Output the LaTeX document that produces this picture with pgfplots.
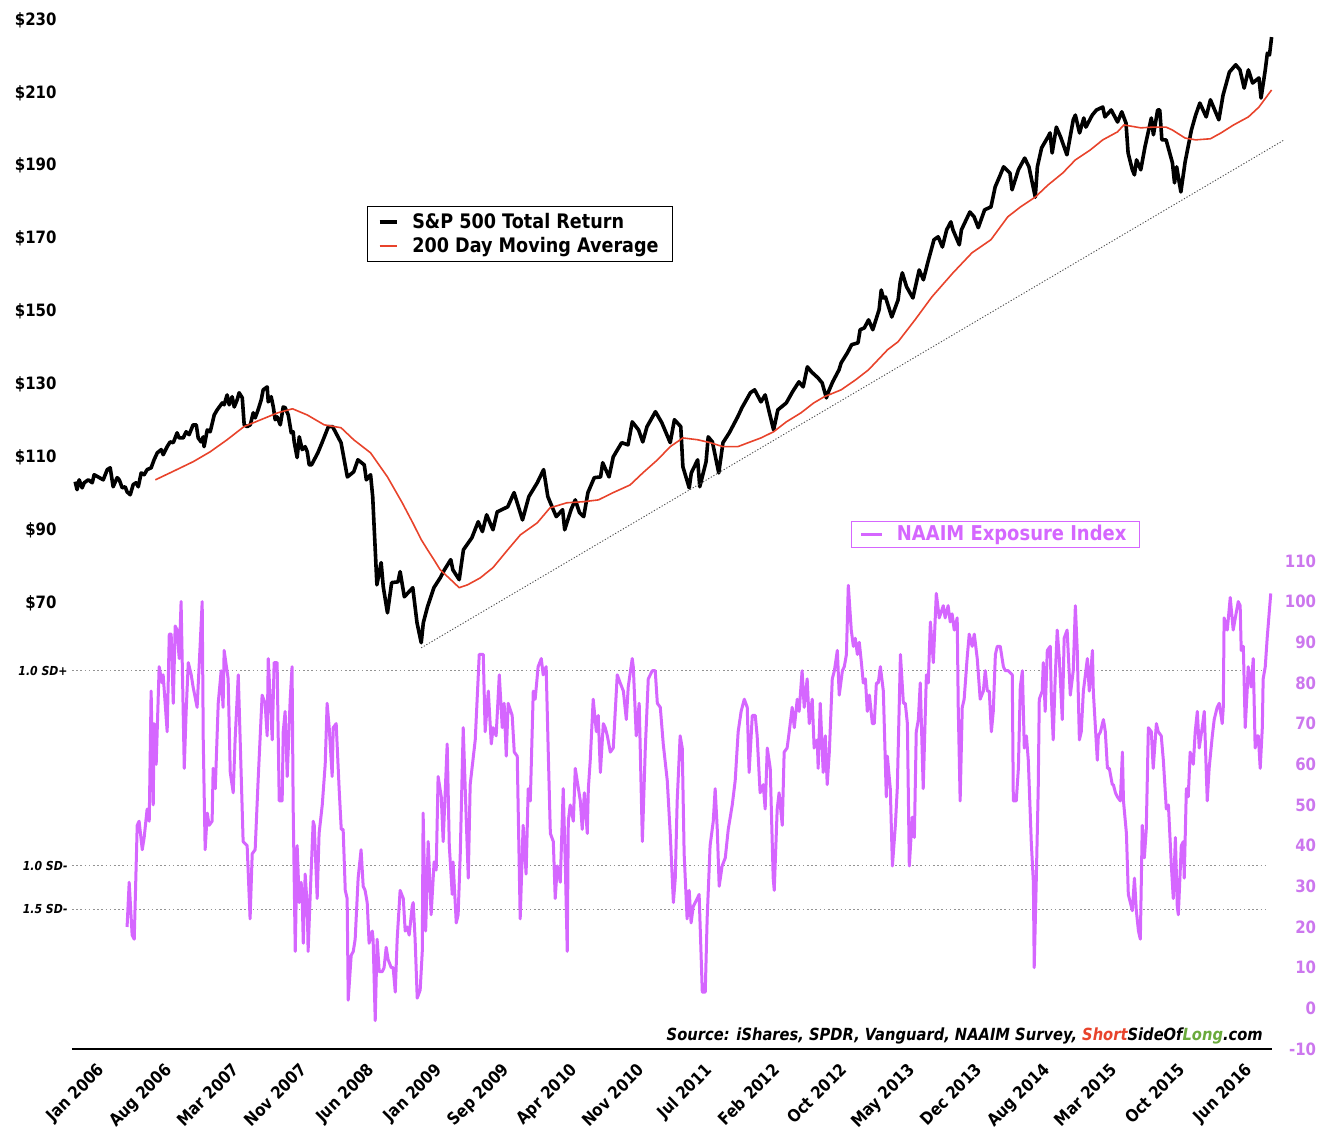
\documentclass[border=0pt]{standalone}
\usepackage{pgfplots}
\pgfplotsset{compat=1.18}
\usepackage{fontspec}
\setmainfont{DejaVu Sans}[FakeStretch=0.88,
  BoldFont={DejaVu Sans Bold},
  ItalicFont={DejaVu Sans Oblique},
  BoldItalicFont={DejaVu Sans Bold Oblique}]

\definecolor{naaim}{RGB}{213,102,255}
\definecolor{naaimtxt}{RGB}{204,119,238}
\definecolor{mared}{RGB}{232,67,43}
\definecolor{sslgreen}{RGB}{106,170,60}

\newcommand\ticfont{\fontsize{8.5}{10}\selectfont\bfseries}
\newcommand\legfont{\fontsize{10}{12}\selectfont\bfseries}
\newcommand\sdfont{\fontsize{6.2}{8}\selectfont\bfseries\itshape}

% weekly data, x = weeks since first week of Jan 2006
\pgfplotstableread[row sep=\\]{
w p\\
0 103.3\\ 0.9 101.1\\ 1.9 103.8\\ 3.3 101.6\\ 4.3 103.0\\ 6.2 103.8\\ 8.1 103.0\\ 9.0 105.2\\
10.9 104.6\\ 13.3 103.8\\ 15.2 106.6\\ 16.6 107.1\\ 18.0 101.9\\ 19.9 104.4\\ 20.9 103.8\\ 22.3 101.6\\
23.7 101.9\\ 24.6 100.5\\ 26.1 99.7\\ 27.5 102.5\\ 28.9 103.0\\ 29.9 101.9\\ 31.3 105.7\\ 32.7 105.2\\
34.1 106.6\\ 36.0 107.1\\ 37.4 109.3\\ 38.9 111.2\\ 40.8 112.1\\ 41.7 110.7\\ 43.6 112.9\\ 45.0 114.2\\
46.5 114.0\\ 48.3 116.7\\ 49.3 115.3\\ 51.2 115.3\\ 52.6 117.0\\ 54.0 116.2\\ 55.9 118.9\\ 57.4 118.9\\
58.3 115.3\\ 59.7 114.2\\ 60.7 115.6\\ 61.1 112.9\\ 62.6 117.5\\ 64.0 117.0\\ 65.9 121.6\\ 67.3 123.0\\
69.7 124.9\\ 70.6 124.4\\ 72.0 127.1\\ 73.0 124.4\\ 74.4 126.6\\ 75.4 123.8\\ 76.8 125.8\\ 77.7 127.7\\
79.2 126.3\\ 80.1 118.9\\ 81.5 118.4\\ 83.0 118.9\\ 84.4 122.2\\ 85.3 120.8\\ 86.7 123.0\\ 88.2 125.8\\
89.1 128.5\\ 91.0 129.3\\ 91.5 125.2\\ 92.9 126.6\\ 93.9 123.8\\ 94.8 120.3\\ 95.7 121.1\\ 97.2 118.9\\
98.6 123.8\\ 99.5 123.6\\ 101.0 121.6\\ 102.4 116.7\\ 103.3 117.0\\ 103.8 114.2\\ 105.2 109.9\\ 106.2 115.6\\
107.6 112.1\\ 109.0 112.9\\ 110.0 111.5\\ 110.9 107.9\\ 112 107.9\\ 115 111.2\\ 117 114.0\\
120 118.4\\ 122 118.4\\ 126 114.0\\ 129 104.6\\ 132 106.0\\ 134 109.3\\ 137 107.9\\ 138 103.8\\
140 105.2\\ 141 99.2\\ 143 75.0\\ 145 81.1\\ 146 74.5\\ 148 67.3\\ 150 75.6\\ 153 75.8\\
154 78.6\\ 156 71.7\\ 160 74.2\\ 162 64.6\\ 164 59.1\\ 165 64.6\\ 167 69.0\\ 170 74.2\\
173 76.9\\ 175 79.1\\ 178 81.9\\ 179 79.1\\ 182 76.4\\ 184 84.6\\ 188 87.9\\ 191 92.3\\
193 89.6\\ 195 94.2\\ 198 90.1\\ 200 95.0\\ 205 96.4\\ 208 100.3\\ 212 92.8\\ 215 99.2\\
219 103.0\\ 222 106.6\\ 224 99.2\\ 226 96.4\\ 228 93.7\\ 231 95.6\\ 232 90.1\\ 235 95.6\\
237 98.3\\ 239 94.8\\ 241 93.7\\ 243 100.3\\ 246 104.4\\ 249 104.6\\ 250 108.5\\ 253 104.6\\
255 110.1\\ 259 114.0\\ 262 113.4\\ 264 119.7\\ 267 117.5\\ 269 114.2\\ 271 118.4\\ 275 122.5\\
278 119.5\\ 282 114.0\\ 284 120.3\\ 287 118.4\\ 288 107.4\\ 291 101.6\\ 292 105.7\\ 295 109.3\\
296 101.9\\ 299 108.8\\ 300 115.6\\ 302 114.2\\ 305 105.7\\ 307 114.0\\ 310 116.7\\ 314 121.1\\
316 123.6\\ 320 127.7\\ 322 128.5\\ 325 125.2\\ 327 127.1\\ 329 122.2\\ 331 117.5\\ 333 123.0\\
337 124.9\\ 340 128.0\\ 343 130.7\\ 345 129.3\\ 347 134.8\\ 349 133.4\\ 352 131.8\\ 354 130.4\\
356 126.3\\ 357 128.0\\ 359 130.7\\ 362 134.0\\ 363 135.9\\ 366 138.7\\ 368 140.9\\ 371 141.4\\
372 145.0\\ 374 145.5\\ 376 147.7\\ 378 145.0\\ 381 150.5\\ 382 155.9\\ 383 153.7\\ 384 154.0\\
387 148.5\\ 390 153.2\\ 391 158.1\\ 392 160.6\\ 394 156.8\\ 397 153.7\\ 400 161.4\\ 402 158.7\\
404 163.3\\ 407 169.7\\ 409 170.5\\ 411 167.7\\ 413 172.4\\ 415 174.6\\ 416 172.4\\ 419 168.3\\
420 172.4\\ 424 177.3\\ 426 176.0\\ 428 173.0\\ 431 177.9\\ 434 178.7\\ 436 184.2\\ 438 186.9\\
440 189.7\\ 443 188.0\\ 444 183.4\\ 447 188.9\\ 450 192.1\\ 452 189.7\\ 455 181.4\\ 456 189.7\\
458 194.9\\ 461 197.9\\ 462 199.0\\ 463 193.5\\ 465 200.6\\ 467 197.9\\ 470 193.0\\ 473 202.6\\
474 203.9\\ 476 199.0\\ 478 203.1\\ 479 200.6\\ 482 203.9\\ 484 205.3\\ 487 206.1\\ 488 203.4\\
491 205.3\\ 494 202.0\\ 496 204.8\\ 498 201.7\\ 499 193.5\\ 501 188.9\\ 502 187.5\\ 503 191.6\\
505 188.9\\ 507 195.2\\ 510 203.1\\ 511 198.5\\ 513 205.3\\ 514 205.3\\ 515 197.1\\ 517 197.1\\
520 190.8\\ 521 185.3\\ 522 189.7\\ 524 182.8\\ 526 191.0\\ 529 199.8\\ 531 203.9\\ 533 207.2\\
536 203.4\\ 538 208.1\\ 542 202.6\\ 544 209.4\\ 547 215.7\\ 550 217.7\\ 552 216.3\\ 554 211.3\\
556 216.3\\ 558 212.7\\ 561 214.1\\ 562 208.6\\ 564 216.3\\ 565 220.9\\ 566 220.4\\ 567 225.3\\
}\spx

\pgfplotstableread[row sep=\\]{
w p\\
38 103.8\\ 46 106.0\\ 56 108.8\\ 64 111.5\\ 72 114.8\\ 80 118.4\\ 88 120.3\\ 96 122.2\\
103 123.3\\ 110 121.6\\ 118 118.9\\ 126 118.1\\ 132 114.8\\ 140 111.2\\ 148 104.6\\ 155 97.5\\
160 92.0\\ 164 87.4\\ 167 84.6\\ 170 81.9\\ 173 79.1\\ 178 76.4\\ 182 74.2\\ 186 75.0\\
192 76.9\\ 198 79.7\\ 205 84.6\\ 211 88.7\\ 219 92.0\\ 225 96.1\\ 233 97.5\\ 241 97.8\\
248 98.3\\ 255 100.3\\ 263 102.4\\ 269 105.7\\ 276 109.3\\ 282 112.9\\ 288 115.3\\ 295 114.8\\
301 114.0\\ 307 112.9\\ 314 112.9\\ 319 114.0\\ 325 115.3\\ 331 117.0\\ 337 119.7\\ 344 122.2\\
350 124.9\\ 355 126.6\\ 363 128.5\\ 370 131.3\\ 376 134.0\\ 385 139.5\\ 390 141.7\\ 398 147.7\\
406 154.0\\ 416 160.6\\ 425 166.1\\ 434 169.7\\ 442 176.0\\ 448 178.7\\ 455 181.4\\ 461 184.7\\
468 188.0\\ 474 191.6\\ 481 194.3\\ 487 197.1\\ 494 199.3\\ 497 201.2\\ 505 200.4\\ 511 200.6\\
517 200.6\\ 520 199.8\\ 526 197.6\\ 531 197.1\\ 538 197.4\\ 543 199.0\\ 549 201.2\\ 556 203.4\\
561 206.1\\ 567 210.8\\
}\ma

\pgfplotstableread[row sep=\\]{
w n\\
24.6 20\\ 25.6 31\\ 27.0 18\\ 28.0 17\\ 29.4 45\\ 30.3 46\\ 31.8 39\\ 32.7 42\\
34.1 49\\ 35.1 46\\ 36.0 78\\ 37.0 50\\ 37.4 70\\ 38.4 60\\ 39.8 84\\ 41.2 80\\
41.7 82\\ 43.6 68\\ 44.6 92\\ 45.5 92\\ 46.5 75\\ 47.4 94\\ 48.3 93\\ 49.3 86\\
50.2 100\\ 51.7 59\\ 52.6 73\\ 53.6 85\\ 55.0 82\\ 55.9 79\\ 57.8 74\\ 59.2 89\\
60.2 100\\ 60.7 66\\ 61.6 39\\ 62.6 48\\ 63.5 45\\ 64.9 46\\ 65.4 59\\ 66.4 54\\
67.8 75\\ 69.2 83\\ 70.1 74\\ 70.6 88\\ 72.5 81\\ 73.5 58\\ 74.9 53\\ 75.8 66\\
77.3 82\\ 79.6 41\\ 81.5 40\\ 82.9 22\\ 83.9 38\\ 85.3 39\\ 86.7 56\\ 88.6 77\\
90.0 75\\ 91.0 67\\ 91.5 86\\ 93.4 66\\ 94.3 85\\ 95.7 85\\ 96.7 51\\ 98.1 51\\
98.6 68\\ 99.5 73\\ 100.5 57\\ 101.9 76\\ 102.8 84\\ 103.3 50\\ 104.3 14\\ 105.2 40\\
106.2 26\\ 107.1 31\\ 107.6 27\\ 108.1 16\\ 109.0 33\\ 110.0 25\\ 110.4 14\\ 111.4 28\\
112.8 46\\ 113.3 45\\ 114.7 27\\ 115.6 43\\ 117.1 50\\ 118.5 60\\ 119.4 75\\ 120.4 69\\
121.8 57\\ 122.3 69\\ 123.7 70\\ 125.1 54\\ 126.1 44\\ 127.0 44\\ 128.0 29\\ 128.9 27\\
129.4 2\\ 130.8 13\\ 131.8 14\\ 132.7 17\\ 134.1 32\\ 135.5 39\\ 136.5 30\\ 137.4 29\\
138.4 26\\ 139.3 16\\ 140.8 19\\ 141.2 17\\ 142.2 -3\\ 143.1 17\\ 144.1 9\\ 145.5 9\\
146.4 10\\ 147.4 15\\ 148.3 12\\ 149.8 10\\ 150.7 10\\ 151.7 4\\ 152.6 17\\ 154.0 29\\
155.5 27\\ 156.4 19\\ 157.3 20\\ 158.3 18\\ 159.7 25\\ 160.2 26\\ 161.1 17\\ 162.1 2.5\\
163.5 4.5\\ 164.5 14\\ 164.9 48\\ 166.1 19\\ 167.3 41\\ 168.7 23\\ 170.1 36\\ 171.1 34\\
172.0 57\\ 173.5 52\\ 174.4 41\\ 176.3 65\\ 177.3 40\\ 178.7 28\\ 179.1 36\\ 180.6 21\\
181.5 23\\ 182.5 38\\ 183.9 69\\ 185.3 47\\ 186.3 32\\ 187.2 55\\ 189.6 66\\ 191.5 87\\
193.4 87\\ 194.3 68\\ 195.8 78\\ 197.2 65\\ 198.1 69\\ 199.5 67\\ 201.0 82\\ 202.4 69\\
203.3 75\\ 204.3 62\\ 205.2 75\\ 207.1 72\\ 208.1 63\\ 209.5 62\\ 210.9 22\\ 212.3 45\\
213.7 33\\ 214.7 54\\ 215.7 51\\ 217.1 78\\ 218.0 76\\ 219.4 84\\ 220.9 86\\ 221.8 82\\
223.2 84\\ 224.2 63\\ 225.2 43\\ 226.6 41\\ 227.5 27\\ 228.5 35\\ 229.9 31\\ 231.3 54\\
232.3 35\\ 233.2 14\\ 233.7 46\\ 234.6 50\\ 236.1 46\\ 237.0 59\\ 237.9 56\\ 239.4 51\\
240.3 44\\ 241.3 53\\ 242.7 43\\ 243.2 54\\ 244.1 61\\ 245.5 76\\ 247.0 68\\ 247.9 72\\
248.9 58\\ 250.3 70\\ 251.2 69\\ 252.2 67\\ 253.6 63\\ 255.0 64\\ 256.9 82\\ 258.3 80\\
259.8 78\\ 261.2 71\\ 262.1 79\\ 264.0 86\\ 264.5 84\\ 265.9 67\\ 267.3 75\\ 268.8 41\\
270.2 64\\ 271.6 81\\ 273.5 83\\ 274.9 83\\ 275.9 75\\ 277.3 74\\ 278.7 65\\ 280.6 56\\
282.0 43\\ 283.5 26\\ 284.4 32\\ 285.3 51\\ 286.7 67\\ 287.7 64\\ 288.6 38\\ 290.0 22\\
291.0 29\\ 291.9 21\\ 292.9 25\\ 294.8 27\\ 295.7 28\\ 297.2 4\\ 298.6 4\\ 299.5 22\\
300.9 40\\ 302.4 46\\ 303.3 54\\ 304.3 44\\ 305.2 30\\ 306.6 35\\ 308.1 37\\ 309.5 44\\
311.4 50\\ 312.8 56\\ 314.2 68\\ 315.6 73\\ 317.1 76\\ 318.5 74\\ 319.4 58\\ 320.9 72\\
322.3 72\\ 323.2 67\\ 324.6 53\\ 326.1 55\\ 327.0 49\\ 328.0 64\\ 329.4 59\\ 330.8 32\\
331.3 29\\ 332.7 49\\ 333.6 53\\ 335.1 45\\ 336.0 63\\ 337.4 64\\ 338.4 68\\ 339.8 74\\
340.8 69\\ 342.2 76\\ 343.1 73\\ 344.5 83\\ 345.5 74\\ 346.9 81\\ 347.9 70\\ 349.3 76\\
350.2 64\\ 351.7 66\\ 352.1 59\\ 353.1 75\\ 354.5 58\\ 355.5 67\\ 356.4 55\\ 357.4 63\\
358.8 81\\ 359.8 83\\ 361.2 88\\ 362.1 77\\ 363.6 83\\ 364.5 84\\ 365.5 87\\ 366.4 104\\
367.8 93\\ 368.8 89\\ 369.7 91\\ 370.7 87\\ 371.6 90\\ 372.6 85\\ 373.5 80\\ 374.5 81\\
375.4 73\\ 376.4 77\\ 377.8 70\\ 378.7 70\\ 379.7 80\\ 380.6 80\\ 381.6 84\\ 383.0 78\\
384.4 52\\ 384.9 62\\ 386.3 54\\ 387.3 35\\ 388.7 45\\ 389.6 54\\ 391.1 87\\ 392.5 75\\
393.4 75\\ 394.4 70\\ 395.3 35\\ 396.7 47\\ 397.7 42\\ 398.6 68\\ 399.6 71\\ 400.5 80\\
401.9 54\\ 403.4 82\\ 404.3 80\\ 405.3 95\\ 406.7 85\\ 408.1 102\\ 409.5 96\\ 411.4 99\\
412.3 96\\ 413.7 99\\ 414.7 95\\ 415.6 97\\ 416.6 93\\ 418.0 96\\ 418.5 74\\ 419.4 51\\
420.4 74\\ 421.3 76\\ 422.7 86\\ 423.7 92\\ 425.1 89\\ 426.1 92\\ 427.5 86\\ 428.9 76\\
430.4 78\\ 431.3 83\\ 432.3 78\\ 433.2 78\\ 434.2 68\\ 435.1 73\\ 436.1 87\\ 437.0 89\\
438.4 89\\ 439.9 84\\ 440.8 83\\ 442.2 83\\ 444.1 82\\ 444.6 51\\ 446.0 51\\ 447.0 59\\
447.9 79\\ 448.9 83\\ 449.8 64\\ 450.8 67\\ 451.7 61\\ 453.1 41\\ 454.1 31\\ 454.5 10\\
455.5 32\\ 456.4 54\\ 456.9 76\\ 458.3 78\\ 458.8 85\\ 459.7 73\\ 460.7 88\\ 462.1 89\\
462.6 77\\ 463.5 66\\ 464.5 82\\ 465.4 93\\ 466.4 86\\ 467.8 71\\ 468.7 91\\ 470.1 93\\
471.6 77\\ 473.0 83\\ 474.0 99\\ 474.9 88\\ 475.9 66\\ 476.8 68\\ 477.8 78\\ 479.7 86\\
480.6 78\\ 482.1 88\\ 482.5 78\\ 484.4 61\\ 484.9 67\\ 485.9 68\\ 487.3 71\\ 488.2 68\\
489.2 59\\ 490.1 59\\ 491.5 55\\ 492.0 55\\ 493.0 53\\ 493.9 52\\ 495.3 51\\ 496.3 63\\
496.8 51\\ 498.2 43\\ 499.1 28\\ 501.0 24\\ 502.0 32\\ 502.9 24\\ 503.9 19\\ 504.8 17\\
505.7 45\\ 506.7 37\\ 507.6 44\\ 508.6 69\\ 510.0 68\\ 510.9 59\\ 512.4 70\\ 513.3 68\\
514.7 67\\ 515.7 61\\ 517.1 49\\ 518.1 50\\ 519.5 35\\ 520.4 27\\ 521.4 42\\ 522.3 25\\
522.8 23\\ 524.2 40\\ 525.2 41\\ 525.6 32\\ 526.6 54\\ 527.5 52\\ 528.4 63\\ 529.9 60\\
530.8 68\\ 531.8 73\\ 532.7 64\\ 534.1 69\\ 535.1 73\\ 536.5 51\\ 537.4 59\\ 538.9 67\\
539.8 71\\ 541.2 74\\ 542.2 75\\ 543.6 70\\ 544.1 74\\ 544.5 96\\ 546.0 93\\ 547.4 101\\
548.8 93\\ 549.8 96\\ 551.2 100\\ 552.1 99\\ 552.6 88\\ 553.6 89\\ 554.5 69\\ 555.5 79\\
555.9 84\\ 557.3 79\\ 558.3 86\\ 559.2 64\\ 560.2 67\\ 560.7 67\\ 561.6 59\\ 562.6 69\\
563.0 81\\ 564.0 84\\ 564.9 91\\ 566.6 102\\
}\naaimtab

\pgfplotsset{
  base/.style={
    at={(36pt,48.5pt)}, anchor=south west,
    width=599.8pt, height=514.5pt, scale only axis,
    xmin=-1.5, xmax=567,
    major tick length=0pt, tick style={draw=none},
    clip=false,
  },
  sdline/.style={forget plot, gray!85, line width=0.5pt, dash pattern=on 0.8pt off 1.3pt},
}

\begin{document}
\begin{tikzpicture}
\useasboundingbox (0,0) rectangle (670pt,573pt);

\begin{axis}[base,
  ymin=-52.4, ymax=230,
  axis x line*=bottom, axis y line*=left,
  y axis line style={draw=none},
  x axis line style={line width=1.1pt},
  xtick={0,32,...,544},
  xticklabels={Jan 2006,Aug 2006,Mar 2007,Nov 2007,Jun 2008,Jan 2009,Sep 2009,Apr 2010,Nov 2010,Jul 2011,Feb 2012,Oct 2012,May 2013,Dec 2013,Aug 2014,Mar 2015,Oct 2015,Jun 2016},
  xticklabel style={font=\ticfont, xshift=10.5pt, yshift=-3.5pt, rotate=45, anchor=north east, inner sep=2pt},
  ytick={70,90,...,230},
  yticklabels={\$70,\$90,\$110,\$130,\$150,\$170,\$190,\$210,\$230},
  yticklabel style={font=\ticfont, anchor=east, xshift=-4.2pt},
  legend cell align=left,
  legend image code/.code={\draw[#1] (0pt,0pt) -- (8.5pt,0pt);},
  legend style={at={(0.246,0.819)}, anchor=north west, draw=black, line width=0.6pt,
    fill=white, font=\legfont, inner xsep=5pt, inner ysep=1pt, row sep=-1pt,
    /tikz/every odd column/.append style={column sep=5pt}},
]
\addplot[black, line width=1.8pt, line join=round] table[x=w, y=p] {\spx};
\addlegendentry{S\&P 500 Total Return}
\addplot[mared, line width=0.8pt, line join=round] table[x=w, y=p] {\ma};
\addlegendentry{200 Day Moving Average}
\addplot[forget plot, black!70, line width=0.45pt, dash pattern=on 0.6pt off 0.9pt]
  coordinates {(164,57.7) (573,197.1)};
\end{axis}

\begin{axis}[base,
  ymin=-10, ymax=243,
  axis x line=none, xtick=\empty,
  axis y line*=right, y axis line style={draw=none},
  ytick={-10,0,...,110},
  yticklabels={-10,0,10,20,30,40,50,60,70,80,90,100,110},
  yticklabel style={font=\ticfont, text=naaimtxt, anchor=east, xshift=25.8pt},
  legend image code/.code={\draw[#1] (0pt,0pt) -- (10.5pt,0pt);},
  legend style={at={(0.649,0.5136)}, anchor=north west, draw=naaim, line width=0.6pt,
    fill=white, text=naaim, font=\fontsize{10.2}{12}\selectfont\bfseries,
    inner xsep=4.4pt, inner ysep=0pt,
    /tikz/every odd column/.append style={column sep=4.5pt}},
]
\addplot[sdline] coordinates {(-1.5,83) (565.5,83)};
\addplot[sdline] coordinates {(-1.5,35) (565.5,35)};
\addplot[sdline] coordinates {(-1.5,24.4) (565.5,24.4)};
\addplot[naaim, line width=1.5pt, line join=round] table[x=w, y=n] {\naaimtab};
\addlegendentry{NAAIM Exposure Index}
\node[anchor=east, font=\sdfont, inner sep=0pt, xshift=-2pt] at (axis cs:-1.5,83) {1.0 SD+};
\node[anchor=east, font=\sdfont, inner sep=0pt, xshift=-2pt] at (axis cs:-1.5,35) {1.0 SD-};
\node[anchor=east, font=\sdfont, inner sep=0pt, xshift=-2pt] at (axis cs:-1.5,24.4) {1.5 SD-};
\node[anchor=base east, inner sep=0pt, font=\fontsize{8.35}{10}\selectfont\bfseries\itshape]
  at (axis cs:563,-8) {Source: iShares, SPDR, Vanguard, NAAIM Survey, \textcolor{mared}{Short}SideOf\textcolor{sslgreen}{Long}.com};
\end{axis}
\end{tikzpicture}
\end{document}
